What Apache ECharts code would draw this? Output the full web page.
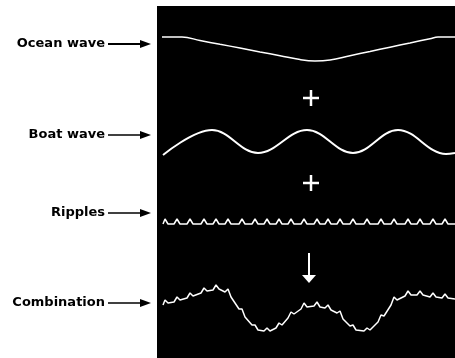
<!DOCTYPE html>
<html>
<head>
<meta charset="utf-8">
<script src="https://cdn.jsdelivr.net/npm/echarts@6/dist/echarts.min.js"></script>
<style>
    html, body { margin: 0; padding: 0; background: #fff; }
    #chart { width: 455px; height: 358px; }
</style>
</head>
<body>
<div id="chart"></div>
<script>
    // distance along the panel (0..298), height of the surface above its rest line
    var waveLabels = ['Ocean wave', 'Boat wave', 'Ripples', 'Combination'];

    var oceanWave = [[5, 12], [25, 12], [43, 8.5], [63, 4.7], [83, 1], [103, -3], [123, -6.7], [143, -10.6],
        [158, -12], [173, -11], [193, -6.7], [213, -2.5], [233, 1.8], [253, 6], [273, 10.3], [281, 12], [298, 12]];

    var boatWave = [[6, -13], [55, 12], [101, -11], [150, 12], [196, -11], [241, 12], [289, -12], [298, -11]];

    var ripples = [[6, -2], [8, 3], [11, -2], [17, -2], [20, 3], [23, -2], [30, -2], [33, 3], [36, -2], [44, -2],
        [47, 3], [50, -2], [56, -2], [59, 3], [62, -2], [68, -2], [71, 3], [74, -2], [82, -2], [85, 3], [88, -2],
        [95, -2], [98, 3], [101, -2], [107, -2], [110, 3], [113, -2], [119, -2], [122, 3], [125, -2], [131, -2],
        [134, 3], [137, -2], [144, -2], [147, 3], [150, -2], [157, -2], [160, 3], [163, -2], [168, -2], [171, 3],
        [174, -2], [180, -2], [183, 3], [186, -2], [193, -2], [196, 3], [199, -2], [207, -2], [210, 3], [213, -2],
        [221, -2], [224, 3], [227, -2], [234, -2], [237, 3], [240, -2], [248, -2], [251, 3], [254, -2], [260, -2],
        [263, 3], [266, -2], [273, -2], [276, 3], [279, -2], [285, -2], [288, 3], [291, -2], [298, -2]];

    var combination = [[6, 5], [8, 10], [11, 7], [17, 8], [20, 13], [23, 10], [30, 12], [33, 17], [36, 14], [44, 17],
        [47, 22], [50, 19], [56, 20], [59, 25], [62, 21], [68, 18], [71, 21], [74, 13], [82, 1], [85, 1], [88, -7],
        [95, -15], [98, -15], [101, -20], [107, -21], [110, -18], [113, -21], [119, -18], [122, -13], [125, -15],
        [131, -8], [134, -2], [137, -4], [144, 1], [147, 7], [150, 3], [157, 4], [160, 8], [163, 3], [168, 2],
        [171, 5], [174, 0], [180, -3], [183, -1], [186, -9], [193, -16], [196, -15], [199, -20], [207, -21],
        [210, -18], [213, -20], [221, -12], [224, -5], [227, -6], [234, 5], [237, 13], [240, 10], [248, 14],
        [251, 19], [254, 15], [260, 15], [263, 19], [266, 15], [273, 13], [276, 17], [279, 13], [285, 12],
        [288, 16], [291, 12], [298, 11]];

    var waves = [oceanWave, boatWave, ripples, combination];
    var waveWidths = [1.5, 2, 1.5, 1.5];

    var panelLeft = 157;
    var bandTops = [19, 112, 192, 280];
    var labelY = [44, 135, 213, 303];

    var chart = echarts.init(document.getElementById('chart'));

    var grids = [], xAxes = [], yAxes = [], series = [];
    waves.forEach(function (data, i) {
        grids.push({ left: panelLeft, right: 0, top: bandTops[i], height: 60 });
        xAxes.push({ type: 'value', gridIndex: i, min: 0, max: 298, show: false });
        yAxes.push({ type: 'value', gridIndex: i, min: -30, max: 30, show: false });
        series.push({
            name: waveLabels[i],
            type: 'line',
            xAxisIndex: i,
            yAxisIndex: i,
            data: data,
            smooth: i === 0 ? 0.4 : (i === 1 ? 0.38 : false),
            showSymbol: false,
            silent: true,
            lineStyle: { color: '#fff', width: waveWidths[i] }
        });
    });

    var graphics = [{
        type: 'rect',
        z: -10,
        shape: { x: panelLeft, y: 6, width: 455 - panelLeft, height: 352 },
        style: { fill: '#000' }
    }];

    // labels with arrows pointing at the panel
    waveLabels.forEach(function (label, i) {
        var y = labelY[i];
        graphics.push({
            type: 'text',
            x: 105,
            y: y,
            style: {
                text: label,
                fill: '#000',
                font: 'bold 13px "DejaVu Sans"',
                textAlign: 'right',
                textVerticalAlign: 'middle'
            }
        });
        graphics.push({
            type: 'line',
            shape: { x1: 108, y1: y, x2: 143, y2: y },
            style: { stroke: '#000', lineWidth: i === 0 ? 2 : 1.5 }
        });
        graphics.push({
            type: 'polygon',
            shape: { points: [[140, y - 4], [151, y], [140, y + 4]] },
            style: { fill: '#000' }
        });
    });

    // plus signs and the down arrow between the waves
    [[311, 98], [311, 183]].forEach(function (p) {
        graphics.push({
            type: 'line',
            shape: { x1: p[0] - 8, y1: p[1], x2: p[0] + 8, y2: p[1] },
            style: { stroke: '#fff', lineWidth: 2.5 }
        });
        graphics.push({
            type: 'line',
            shape: { x1: p[0], y1: p[1] - 8, x2: p[0], y2: p[1] + 8 },
            style: { stroke: '#fff', lineWidth: 2.5 }
        });
    });
    graphics.push({
        type: 'line',
        shape: { x1: 309, y1: 253, x2: 309, y2: 276 },
        style: { stroke: '#fff', lineWidth: 2 }
    });
    graphics.push({
        type: 'polygon',
        shape: { points: [[302, 275], [316, 275], [309, 283]] },
        style: { fill: '#fff' }
    });

    chart.setOption({
        backgroundColor: '#fff',
        animation: false,
        grid: grids,
        xAxis: xAxes,
        yAxis: yAxes,
        graphic: graphics,
        series: series
    });
</script>
</body>
</html>
